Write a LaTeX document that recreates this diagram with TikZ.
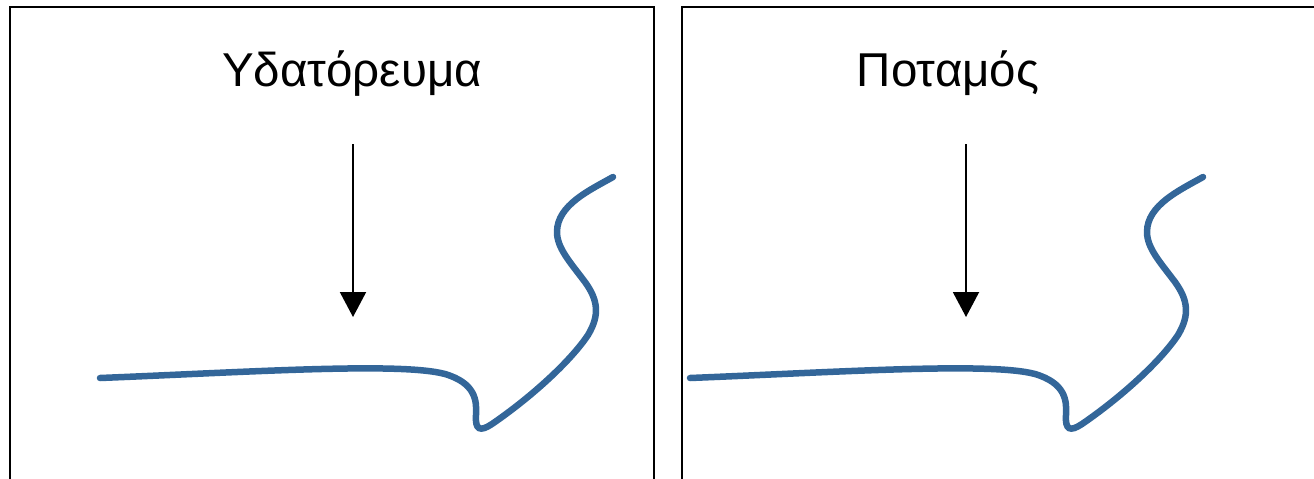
\documentclass[tikz,border=0pt]{standalone}
\usepackage{fontspec}
\setmainfont{Liberation Sans}
\usetikzlibrary{arrows.meta}
\definecolor{riverblue}{RGB}{51,102,153}

\tikzset{
 frame/.style={draw,line width=2pt},
 title/.style={anchor=base,inner sep=0pt,font=\fontsize{47.5}{52}\selectfont},
 flow/.style={line width=2pt,-{Triangle[length=25pt,width=26pt]}},
 river/.style={draw=riverblue,line width=6.5pt,line cap=round}
}

\begin{document}
\begin{tikzpicture}[x=1pt,y=-1pt]
 \useasboundingbox (0,0) rectangle (1314,479);
 % left panel
 \draw[frame] (10,479) -- (10,7) -- (654,7) -- (654,479);
 \node[title] (t_stream) at (352,86) {Υδατόρευμα};
 \coordinate (a_top) at (353,144);
 \coordinate (a_bot) at (353,317);
 \draw[flow] (a_top) -- (a_bot);
 % right panel
 \draw[frame] (682,479) -- (682,7) -- (1314,7);
 \node[title] (t_river) at (948,86) {Ποταμός};
 \coordinate (b_top) at (966,144);
 \coordinate (b_bot) at (966,317);
 \draw[flow] (b_top) -- (b_bot);
 % the two banks
 \foreach \dx in {0,590}
 \draw[river,xshift=\dx] (100,378) .. controls (250,372) and (400,362) .. (445,374)
 .. controls (475,383) and (477,400) .. (476,415)
 .. controls (475,430) and (480,432) .. (492,424)
 .. controls (530,398) and (570,362) .. (588,335)
 .. controls (600,315) and (598,300) .. (585,282)
 .. controls (570,262) and (557,248) .. (557,232)
 .. controls (557,205) and (590,190) .. (613,177);
\end{tikzpicture}
\end{document}
